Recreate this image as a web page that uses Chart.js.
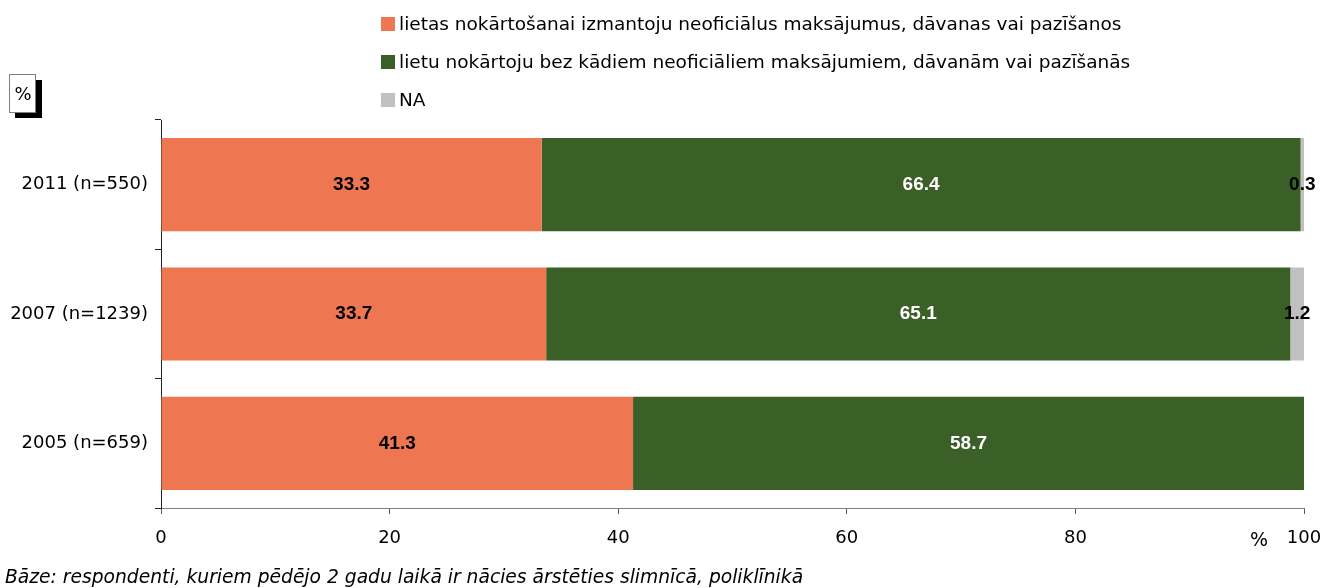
<!DOCTYPE html>
<html>
<head>
<meta charset="utf-8">
<script src="https://cdn.jsdelivr.net/npm/chart.js@4"></script>
<style>
  html, body { margin: 0; padding: 0; background: #fff; }
  #wrap { width: 1325px; height: 588px; position: relative; }
</style>
</head>
<body>
<div id="wrap"><canvas id="chart"></canvas></div>
<script>
// chart data
const categories = ['2011 (n=550)', '2007 (n=1239)', '2005 (n=659)'];
const seriesNames = [
    'lietas nokārtošanai izmantoju neoficiālus maksājumus, dāvanas vai pazīšanos',
    'lietu nokārtoju bez kādiem neoficiāliem maksājumiem, dāvanām vai pazīšanās',
    'NA'
];
const informalValues = [33.3, 33.7, 41.3];
const formalValues = [66.4, 65.1, 58.7];
const naValues = [0.3, 1.2, 0];
const xTicks = [0, 20, 40, 60, 80, 100];
const footnote = 'Bāze: respondenti, kuriem pēdējo 2 gadu laikā ir nācies ārstēties slimnīcā, poliklīnikā';

const colors = ['#EE7752', '#3A5F27', '#C0C0C0'];
const labelColors = ['#000', '#fff', '#000'];
const FONT = '"DejaVu Sans", sans-serif';

// value labels inside the bars
const valueLabels = {
    id: 'valueLabels',
    afterDatasetsDraw(chart) {
        const ctx = chart.ctx;
        ctx.save();
        ctx.font = 'bold 19px "Liberation Sans", Arial, sans-serif';
        ctx.textAlign = 'center';
        ctx.textBaseline = 'middle';
        chart.data.datasets.forEach((ds, i) => {
            chart.getDatasetMeta(i).data.forEach((bar, j) => {
                const v = ds.data[j];
                if (!v) return;
                ctx.fillStyle = labelColors[i];
                ctx.fillText(v.toFixed(1), (bar.x + bar.base) / 2, bar.y);
            });
        });
        ctx.restore();
    }
};

// legend, % box, axis unit and footnote
const extras = {
    id: 'extras',
    afterDraw(chart) {
        const ctx = chart.ctx;
        ctx.save();

        // legend
        ctx.font = '18.5px ' + FONT;
        ctx.textBaseline = 'middle';
        ctx.textAlign = 'left';
        chart.data.datasets.forEach((ds, i) => {
            const y = 24 + i * 38;
            ctx.fillStyle = ds.backgroundColor;
            ctx.fillRect(381, y - 7, 14, 14);
            ctx.fillStyle = '#000';
            ctx.fillText(ds.label, 399, y + 1);
        });

        // % box with shadow
        ctx.fillStyle = '#000';
        ctx.fillRect(15, 80, 27, 38);
        ctx.fillStyle = '#fff';
        ctx.fillRect(10, 75, 26, 38);
        ctx.strokeStyle = '#808080';
        ctx.lineWidth = 1;
        ctx.strokeRect(9.5, 74.5, 26, 38);
        ctx.fillStyle = '#000';
        ctx.font = '18px ' + FONT;
        ctx.textAlign = 'center';
        ctx.fillText('%', 23, 95);

        // unit next to the last x tick
        ctx.font = '19px ' + FONT;
        ctx.fillText('%', 1259, 541);

        // footnote
        ctx.font = 'italic 18.7px ' + FONT;
        ctx.textAlign = 'left';
        ctx.fillText(footnote, 5, 578);

        ctx.restore();
    }
};

const ctx = document.getElementById('chart').getContext('2d');
const chart = new Chart(ctx, {
    type: 'bar',
    data: {
        labels: categories,
        datasets: [
            { label: seriesNames[0], data: informalValues, backgroundColor: colors[0] },
            { label: seriesNames[1], data: formalValues, backgroundColor: colors[1] },
            { label: seriesNames[2], data: naValues, backgroundColor: colors[2] }
        ]
    },
    options: {
        indexAxis: 'y',
        responsive: true,
        maintainAspectRatio: false,
        animation: false,
        datasets: {
            bar: { categoryPercentage: 1, barPercentage: 0.72 }
        },
        layout: { padding: { top: 120, right: 21, left: 0, bottom: 0 } },
        plugins: {
            legend: { display: false },
            tooltip: { enabled: false }
        },
        scales: {
            x: {
                stacked: true,
                min: 0,
                max: 100,
                afterBuildTicks: (scale) => { scale.ticks = xTicks.map(v => ({ value: v })); },
                afterFit: (scale) => {
                    scale.height = 80;
                    scale.paddingLeft = 0;
                    scale.paddingRight = 0;
                },
                grid: { drawOnChartArea: false, drawTicks: true, tickLength: 6, color: '#555' },
                border: { color: '#808080', width: 1 },
                ticks: { color: '#000', font: { family: FONT, size: 18 }, padding: 14, maxRotation: 0 }
            },
            y: {
                stacked: true,
                afterFit: (scale) => { scale.width = 161; },
                grid: { drawOnChartArea: false, drawTicks: true, tickLength: 6, color: '#222' },
                border: { color: '#222', width: 1 },
                ticks: { color: '#000', font: { family: FONT, size: 18 }, padding: 7 }
            }
        }
    },
    plugins: [valueLabels, extras]
});
</script>
</body>
</html>
